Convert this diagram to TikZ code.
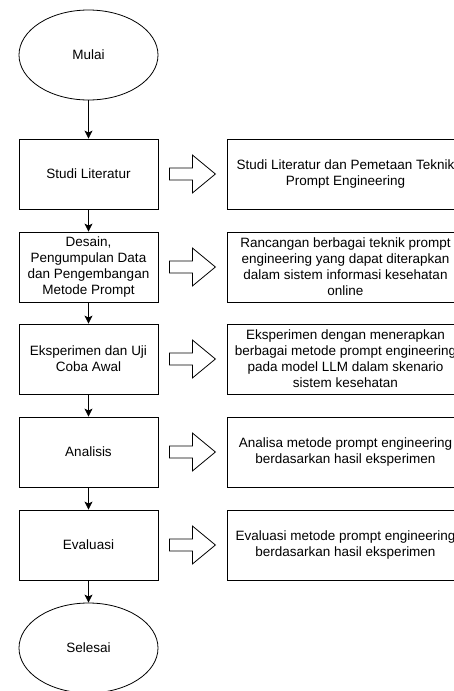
\documentclass[tikz,border=0pt]{standalone}
\usepackage{fontspec}
\setmainfont{Liberation Sans}
\usetikzlibrary{shapes.geometric,arrows.meta,calc}
\begin{document}
\begin{tikzpicture}[x=1pt,y=-1pt,
  txt/.style={font=\fontsize{13.5}{16}\selectfont, align=center, inner sep=0pt},
  proc/.style={txt, draw, line width=0.8pt, minimum width=139pt, minimum height=70pt},
  term/.style={txt, draw, ellipse, line width=0.8pt, minimum width=139pt, minimum height=90pt},
  outbox/.style={txt, draw, line width=0.8pt, minimum width=237pt, minimum height=70pt},
  flow/.style={-{Stealth[length=8pt,width=8pt,inset=2pt]}, line width=0.8pt},
  hollow/.pic={\draw[line width=0.8pt] (0,-6) -- (23,-6) -- (23,-19) -- (46,0) -- (23,19) -- (23,6) -- (0,6) -- cycle;}
]
\clip (0,0) rectangle (454,691);
\node[term] (start) at (88.5,55) {Mulai};
\node[proc] (s1) at (88.5,174) {Studi Literatur};
\node[proc] (s2) at (88.5,267) {Desain,\\Pengumpulan Data\\dan Pengembangan\\Metode Prompt};
\node[proc] (s3) at (88.5,359) {Eksperimen dan Uji\\Coba Awal};
\node[proc] (s4) at (88.5,452) {Analisis};
\node[proc] (s5) at (88.5,545) {Evaluasi};
\node[term] (end) at (88.5,648) {Selesai};

\node[outbox] (o1) at (345.5,174) {Studi Literatur dan Pemetaan Teknik\\Prompt Engineering};
\node[outbox] (o2) at (345.5,267) {Rancangan berbagai teknik prompt\\engineering yang dapat diterapkan\\dalam sistem informasi kesehatan\\online};
\node[outbox] (o3) at (345.5,359) {Eksperimen dengan menerapkan\\berbagai metode prompt engineering\\pada model LLM dalam skenario\\sistem kesehatan};
\node[outbox] (o4) at (345.5,452) {Analisa metode prompt engineering\\berdasarkan hasil eksperimen};
\node[outbox] (o5) at (345.5,545) {Evaluasi metode prompt engineering\\berdasarkan hasil eksperimen};

\draw[flow] (start) -- (s1);
\draw[flow] (s1) -- (s2);
\draw[flow] (s2) -- (s3);
\draw[flow] (s3) -- (s4);
\draw[flow] (s4) -- (s5);
\draw[flow] (s5) -- (end);

\foreach \i in {1,...,5} {
  \pic at ($(s\i.east)+(11,0)$) {hollow};
}
\end{tikzpicture}
\end{document}
